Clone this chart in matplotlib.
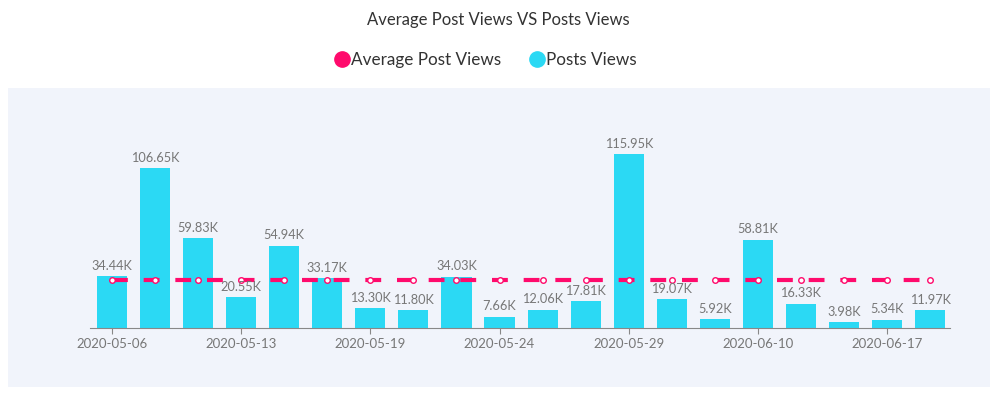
import matplotlib.pyplot as plt
from matplotlib.lines import Line2D

plt.rcParams['font.family'] = ['Lato', 'DejaVu Sans']

# Data (views in thousands)
dates = ['2020-05-06', '2020-05-08', '2020-05-10', '2020-05-13', '2020-05-15',
         '2020-05-17', '2020-05-19', '2020-05-20', '2020-05-22', '2020-05-24',
         '2020-05-26', '2020-05-27', '2020-05-29', '2020-06-01', '2020-06-05',
         '2020-06-10', '2020-06-12', '2020-06-14', '2020-06-17', '2020-06-19']
views = [34.44, 106.65, 59.83, 20.55, 54.94, 33.17, 13.30, 11.80, 34.03, 7.66,
         12.06, 17.81, 115.95, 19.07, 5.92, 58.81, 16.33, 3.98, 5.34, 11.97]
avg_views = 32.18

bar_color = '#2bd9f4'
avg_color = '#ff0a6c'

fig = plt.figure(figsize=(9.96, 3.95), dpi=100)

# light background panel
bg = fig.add_axes([8 / 996, 1 - 387 / 395, 982 / 996, 299 / 395], zorder=0)
bg.set_facecolor('#f1f4fb')
bg.set_xticks([])
bg.set_yticks([])
for s in bg.spines.values():
    s.set_visible(False)

ax = fig.add_axes([90 / 996, 1 - 328 / 395, 860 / 996, 228 / 395], zorder=1)
ax.patch.set_alpha(0)

x = list(range(len(views)))
ax.bar(x, views, width=0.7, color=bar_color, zorder=2)

ax.plot(x, [avg_views] * len(x), color=avg_color, lw=3, dashes=(3.8, 3.8),
        marker='o', markersize=4, markerfacecolor='white',
        markeredgecolor=avg_color, markeredgewidth=1.0, zorder=3)

for xi, v in zip(x, views):
    ax.text(xi, v + 3, f'{v:.2f}K', ha='center', va='bottom',
            fontsize=9.2, color='#777777', zorder=4)

ax.set_xlim(-0.51, 19.46)
ax.set_ylim(0, 152)
ax.set_xticks(x[::3])
ax.set_xticklabels(dates[::3], fontsize=9.5, color='#777777')
ax.tick_params(axis='x', length=4, color='#888888', pad=3)
ax.set_yticks([])
for s in ['top', 'right', 'left']:
    ax.spines[s].set_visible(False)
ax.spines['bottom'].set_color('#888888')

fig.text(0.5, 1 - 20 / 395, 'Average Post Views VS Posts Views', ha='center',
         va='center', fontsize=12, color='#333333')

handles = [Line2D([], [], ls='none', marker='o', markersize=11, color=avg_color),
           Line2D([], [], ls='none', marker='o', markersize=11, color=bar_color)]
fig.legend(handles, ['Average Post Views', 'Posts Views'], loc='center',
           bbox_to_anchor=(0.487, 1 - 60 / 395), ncol=2, frameon=False,
           fontsize=12.3, handletextpad=0.0, columnspacing=1.6,
           labelcolor='#333333', handlelength=1.0)

fig.savefig('out.png', dpi=100)
